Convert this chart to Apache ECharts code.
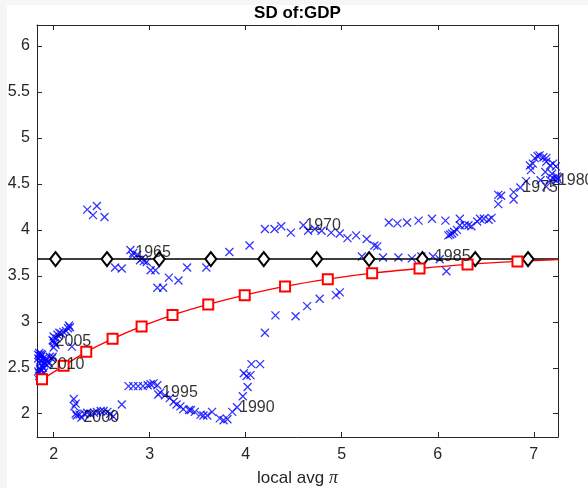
<!DOCTYPE html>
<html>
<head>
<meta charset="utf-8">
<script src="https://cdn.jsdelivr.net/npm/echarts@6/dist/echarts.min.js"></script>
<style>
  html, body { margin: 0; padding: 0; background: #f6f6f6; }
  #sheet { position: absolute; left: 7px; top: 5px; width: 581px; height: 483px; background: #ffffff; }
  #chart { position: absolute; left: 0; top: 0; width: 588px; height: 488px; }
</style>
</head>
<body>
<div id="sheet"></div>
<div id="chart"></div>
<script>
// Axis ranges and tick marks
const X_RANGE = [1.827, 7.252];
const Y_RANGE = [1.747, 6.228];
const X_TICKS = [2, 3, 4, 5, 6, 7];
const Y_TICKS = [2, 2.5, 3, 3.5, 4, 4.5, 5, 5.5, 6];

// Rolling SD of GDP against local average inflation, one array per period.
// The first point of each labelled period carries the year label.
const sdBefore1965 = [[2.53,4.14],[2.41,4.16],[2.35,4.22],[2.45,4.26],[2.64,3.59],[2.71,3.58],[2.80,3.78]];
const sdFrom1965 = [[2.83,3.75],[2.82,3.72],[2.87,3.73],[2.90,3.67],[2.92,3.69],[2.94,3.66],[2.97,3.65],[3.01,3.56],
  [3.06,3.56],[3.08,3.37],[3.14,3.37],[3.20,3.48],[3.30,3.45],[3.39,3.59],[3.59,3.59],[3.83,3.76],[4.04,3.83],
  [4.20,4.01],[4.30,4.01],[4.37,4.04],[4.47,3.97]];
const sdFrom1970 = [[4.60,4.05],[4.65,3.99],[4.72,4.01],[4.79,3.99],[4.89,3.97],[4.98,3.96],[5.06,3.91],[5.15,3.94],
  [5.26,3.90],[5.34,3.83],[5.37,3.82],[5.49,4.08],[5.58,4.07],[5.68,4.08],[5.80,4.10],[5.94,4.12],[6.08,4.10],
  [6.23,4.12],[6.35,4.04],[6.41,4.09],[6.44,4.12],[6.48,4.12],[6.53,4.11],[6.56,4.13],[6.63,4.28],[6.63,4.38],
  [6.66,4.37],[6.79,4.33],[6.79,4.41]];
const sdFrom1975 = [[6.86,4.46],[6.92,4.53],[6.96,4.70],[6.97,4.65],[6.99,4.72],[7.01,4.78],[7.04,4.80],[7.06,4.81],
  [7.10,4.79],[7.13,4.78],[7.13,4.74],[7.17,4.70],[7.20,4.72],[7.23,4.69],[7.12,4.63],[7.19,4.61],[7.24,4.58],[7.20,4.56]];
const sdFrom1980 = [[7.23,4.54],[7.25,4.55],[7.17,4.54],[7.13,4.47],[7.07,4.54],[6.32,4.05],[6.28,4.05],[6.23,4.05],
  [6.20,4.00],[6.17,3.98],[6.15,3.96],[6.13,3.95],[6.11,3.94],[6.09,3.55],[6.02,3.68]];
const sdFrom1985 = [[5.95,3.71],[5.83,3.71],[5.73,3.69],[5.59,3.70],[5.43,3.70],[5.21,3.71],[4.98,3.32],[4.94,3.29],
  [4.77,3.25],[4.64,3.17],[4.52,3.06],[4.31,3.07],[4.20,2.88],[4.15,2.54],[4.06,2.54],[4.05,2.42],[4.01,2.41],
  [3.98,2.44],[4.02,2.29],[3.97,2.19]];
const sdFrom1990 = [[3.91,2.07],[3.86,2.02],[3.81,1.94],[3.77,1.93],[3.73,1.95],[3.65,2.02],[3.60,1.98],[3.56,1.98],
  [3.53,1.99],[3.47,2.02],[3.43,2.04],[3.41,2.04],[3.35,2.05],[3.32,2.08],[3.28,2.10],[3.25,2.13],[3.21,2.17],[3.16,2.20]];
const sdFrom1995 = [[3.11,2.23],[3.09,2.21],[3.08,2.31],[3.04,2.33],[3.01,2.32],[2.98,2.31],[2.93,2.30],[2.88,2.30],
  [2.83,2.30],[2.78,2.30],[2.71,2.10],[2.62,1.97],[2.59,2.00],[2.56,2.02],[2.52,2.03],[2.49,2.03],[2.45,2.02],
  [2.42,2.01],[2.38,2.00],[2.35,2.01]];
const sdFrom2000 = [[2.29,1.96],[2.32,2.00],[2.27,1.99],[2.24,1.98],[2.23,2.00],[2.215,2.08],[2.23,2.11],[2.21,2.16],
  [2.19,2.73],[2.16,2.96],[2.17,2.94],[2.15,2.93],[2.13,2.90],[2.10,2.89],[2.08,2.87],[2.06,2.88],[2.04,2.86],[2.03,2.82]];
const sdFrom2005 = [[2.00,2.79],[1.99,2.80],[2.00,2.84],[2.01,2.77],[2.02,2.75],[2.00,2.72],[1.99,2.62],[1.96,2.62],
  [1.98,2.60],[1.95,2.55],[1.92,2.58],[1.89,2.60],[1.87,2.65],[1.85,2.63],[1.84,2.60],[1.86,2.55],[1.88,2.52],[1.94,2.57]];
const sdFrom2010 = [[1.93,2.53],[1.90,2.55],[1.88,2.64],[1.85,2.66],[1.84,2.64],[1.86,2.58],[1.86,2.49],[1.84,2.46],
  [1.88,2.42],[1.86,2.39],[1.85,2.41],[1.90,2.45],[1.89,2.50],[1.87,2.62],[1.92,2.60],[1.85,2.44],[1.87,2.47]];

const periods = [
  { year: null,   pts: sdBefore1965 },
  { year: '1965', pts: sdFrom1965 },
  { year: '1970', pts: sdFrom1970 },
  { year: '1975', pts: sdFrom1975 },
  { year: '1980', pts: sdFrom1980 },
  { year: '1985', pts: sdFrom1985 },
  { year: '1990', pts: sdFrom1990 },
  { year: '1995', pts: sdFrom1995 },
  { year: '2000', pts: sdFrom2000 },
  { year: '2005', pts: sdFrom2005 },
  { year: '2010', pts: sdFrom2010 }
];

// Fitted curve (squares) and the constant benchmark (diamonds)
const fitX = [1.827, 1.879, 2.104, 2.34, 2.614, 2.916, 3.238, 3.61, 3.99, 4.41, 4.855, 5.317, 5.81, 6.31, 6.83, 7.252];
const fitY = [2.34, 2.374, 2.522, 2.674, 2.815, 2.95, 3.073, 3.189, 3.29, 3.385, 3.464, 3.529, 3.58, 3.624, 3.657, 3.676];
const benchLevel = 3.682;
const benchMarkX = [2.02, 2.556, 3.10, 3.637, 4.188, 4.74, 5.285, 5.84, 6.39, 6.94];

const FONT = 'Liberation Sans, Arial, Helvetica, sans-serif';
const INK = '#262626';

const allPts = periods.reduce((acc, p) => acc.concat(p.pts), []);
const yearPts = periods.filter(p => p.year).map(p => ({ name: p.year, value: p.pts[0] }));

const fitData = fitX.map((x, i) => {
  const edge = i === 0 || i === fitX.length - 1;
  return edge ? { value: [x, fitY[i]], symbol: 'none' } : [x, fitY[i]];
});
const benchData = [{ value: [X_RANGE[0], benchLevel], symbol: 'none' }]
  .concat(benchMarkX.map(x => [x, benchLevel]))
  .concat([{ value: [X_RANGE[1], benchLevel], symbol: 'none' }]);

function frameAxis(pos, range, ticks, showLabels) {
  const horizontal = pos === 'bottom' || pos === 'top';
  return {
    type: 'value',
    position: pos,
    min: range[0],
    max: range[1],
    axisLine: { show: true, onZero: false, lineStyle: { color: INK, width: 1 } },
    axisTick: { show: true, inside: true, length: 5, customValues: ticks, lineStyle: { color: INK, width: 1 } },
    axisLabel: {
      show: showLabels,
      customValues: ticks,
      color: INK,
      fontSize: 16,
      fontFamily: FONT,
      margin: horizontal ? 10 : 7
    },
    splitLine: { show: false }
  };
}

const chart = echarts.init(document.getElementById('chart'), null, { renderer: 'canvas' });

const xBottom = frameAxis('bottom', X_RANGE, X_TICKS, true);
xBottom.name = 'local avg {pi|π}';
xBottom.nameLocation = 'middle';
xBottom.nameGap = 32;
xBottom.nameTextStyle = {
  color: INK, fontSize: 17, fontFamily: FONT,
  rich: { pi: { fontFamily: 'Liberation Serif, DejaVu Serif, serif', fontStyle: 'italic', fontSize: 18, color: INK } }
};

chart.setOption({
  animation: false,
  backgroundColor: 'transparent',
  grid: { left: 37, right: 30, top: 25, bottom: 51, containLabel: false, outerBoundsMode: 'none' },
  xAxis: [xBottom, frameAxis('top', X_RANGE, X_TICKS, false)],
  yAxis: [frameAxis('left', Y_RANGE, Y_TICKS, true), frameAxis('right', Y_RANGE, Y_TICKS, false)],
  graphic: [{
    type: 'text',
    x: 297.5,
    y: 13.5,
    style: {
      text: 'SD of:GDP',
      textAlign: 'center',
      textVerticalAlign: 'middle',
      font: 'bold 17px ' + FONT,
      fill: '#000'
    }
  }],
  series: [
    {
      name: 'sd',
      type: 'scatter',
      data: allPts,
      symbol: 'path://M0 0L10 10M10 0L0 10',
      symbolSize: 8,
      itemStyle: { color: 'none', borderColor: '#0000ff', borderWidth: 1.3 },
      z: 2
    },
    {
      name: 'bench',
      type: 'line',
      data: benchData,
      symbol: 'emptyDiamond',
      symbolSize: [11, 14],
      showAllSymbol: true,
      lineStyle: { color: '#000', width: 1.5 },
      itemStyle: { color: '#000', borderWidth: 1.6 },
      z: 3
    },
    {
      name: 'fit',
      type: 'line',
      data: fitData,
      smooth: 0.3,
      symbol: 'emptyRect',
      symbolSize: 10,
      showAllSymbol: true,
      lineStyle: { color: '#ff0000', width: 1.4 },
      itemStyle: { color: '#ff0000', borderWidth: 1.4 },
      z: 3
    },
    {
      name: 'years',
      type: 'scatter',
      data: yearPts,
      symbolSize: 0,
      silent: true,
      clip: false,
      label: {
        show: true,
        formatter: '{b}',
        position: 'right',
        distance: 2,
        color: '#000',
        fontSize: 16,
        fontFamily: FONT
      },
      z: 5
    }
  ]
});
</script>
</body>
</html>
